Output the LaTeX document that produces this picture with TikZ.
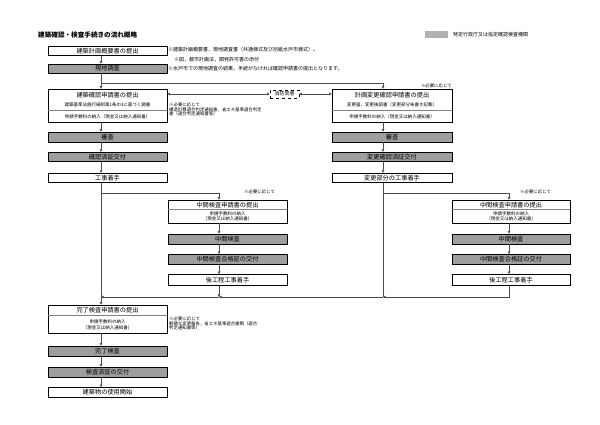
\documentclass[tikz,border=0pt]{standalone}
\usepackage{fontspec}
\setmainfont{Noto Sans CJK JP}
\usetikzlibrary{arrows.meta}
\definecolor{boxgray}{gray}{0.62}
\definecolor{leggray}{gray}{0.70}
\definecolor{linegray}{gray}{0.30}
\begin{document}
\begin{tikzpicture}[x=1pt,y=-1pt,
  box/.style={draw=black,line width=0.7pt,inner sep=0pt,font=\fontsize{6.2}{6.2}\selectfont},
  wbox/.style={box,fill=white},
  gbox/.style={box,fill=boxgray},
  ttl/.style={inner sep=0pt,font=\fontsize{6.2}{6.2}\selectfont},
  sub/.style={inner sep=0pt,font=\fontsize{4.5}{4.5}\selectfont},
  note/.style={inner sep=0pt,anchor=west,font=\fontsize{5}{5}\selectfont},
  snote/.style={inner sep=0pt,anchor=west,font=\fontsize{4.4}{4.4}\selectfont},
  sep/.style={draw=gray,line width=0.4pt},
  conn/.style={draw=linegray,line width=0.5pt},
  arr/.style={conn,-{Triangle[length=2.6pt,width=2.6pt]}},
  darr/.style={conn,{Triangle[length=2.6pt,width=2.6pt]}-{Triangle[length=2.6pt,width=2.6pt]}},
]
\useasboundingbox[fill=white] (0,0) rectangle (600,424);

% title and legend
\node[anchor=west,inner sep=0pt,font=\fontsize{6.6}{6.6}\selectfont\bfseries] (title) at (38,35) {建築確認・検査手続きの流れ概略};
\node[draw=leggray,fill=leggray,minimum width=22pt,minimum height=6pt,inner sep=0pt] (leg) at (436,34.5) {};
\node[note] (legt) at (453,34.5) {特定行政庁又は指定確認検査機関};

% guide coordinates
\coordinate (xl) at (101,0);
\coordinate (xm) at (219,0);
\coordinate (xr) at (383,0);
\coordinate (xrr) at (509,0);

% left column
\node[wbox,minimum width=119pt,minimum height=9pt] (n1) at (107.5,51) {建築計画概要書の提出};
\node[gbox,minimum width=119pt,minimum height=9pt] (n2) at (107.5,68.5) {現地調査};
\node[wbox,minimum width=119pt,minimum height=33pt] (n3) at (107.5,105.5) {};
\node[ttl] (n3t) at (107.5,95) {建築確認申請書の提出};
\node[sub] (n3a) at (107.5,104.5) {建築基準法施行細則第1条の3に基づく調書};
\draw[sep] (n3.west |- 0,110.5) -- (n3.east |- 0,110.5);
\node[sub] (n3b) at (107.5,116.5) {申請手数料の納入（現金又は納入通知書）};
\node[gbox,minimum width=119pt,minimum height=10pt] (n4) at (107.5,137) {審査};
\node[gbox,minimum width=119pt,minimum height=9.5pt] (n5) at (107.5,157) {確認済証交付};
\node[wbox,minimum width=119pt,minimum height=9.5pt] (n6) at (107.5,178) {工事着手};
\node[wbox,minimum width=119pt,minimum height=28pt] (n7) at (107.5,319) {};
\node[ttl] (n7t) at (107.5,310.5) {完了検査申請書の提出};
\draw[sep] (n7.west |- 0,315.5) -- (n7.east |- 0,315.5);
\node[sub] (n7a) at (107.5,322) {申請手数料の納入};
\node[sub] (n7b) at (107.5,328) {（現金又は納入通知書）};
\node[gbox,minimum width=119pt,minimum height=10pt] (n8) at (107.5,351) {完了検査};
\node[gbox,minimum width=119pt,minimum height=10pt] (n9) at (107.5,372) {検査済証の交付};
\node[wbox,minimum width=119pt,minimum height=10pt] (n10) at (107.5,392.5) {建築物の使用開始};

% notes, left
\node[note] (c1) at (168,50) {※建築計画概要書，現地調査書（共通様式及び別紙水戸市様式）。};
\node[note] (c2) at (174,60) {※図，都市計画法，開発許可書の添付};
\node[note] (c3) at (168,68.5) {※水戸市での現地調査の結果，手続がなければ確認申請書の提出となります。};
\node[snote] (c4) at (169,105) {※必要に応じて};
\node[snote] (c5) at (169,109.5) {構造計算適合判定通知書，省エネ基準適合判定};
\node[snote] (c6) at (169,114) {書（適合判定通知書等）};
\node[snote] (c7) at (169,319) {※必要に応じて};
\node[snote] (c8) at (169,323.5) {軽微な変更報告，省エネ基準適合書類（適合};
\node[snote] (c9) at (169,328) {判定通知書等）};

% fire consent
\node[draw=black,dashed,line width=0.6pt,minimum width=29pt,minimum height=8pt,inner sep=0pt,font=\fontsize{5}{5}\selectfont] (fire) at (284.5,94) {消防同意};

% right column
\node[wbox,minimum width=120pt,minimum height=33pt] (r1) at (392,105.5) {};
\node[ttl] (r1t) at (392,95) {計画変更確認申請書の提出};
\node[sub] (r1a) at (392,104.5) {変更届，変更後図書（変更部分朱書き記載）};
\draw[sep] (r1.west |- 0,110.5) -- (r1.east |- 0,110.5);
\node[sub] (r1b) at (392,116.5) {申請手数料の納入（現金又は納入通知書）};
\node[snote,anchor=east] (c10) at (452,86) {※必要に応じて};
\node[gbox,minimum width=120pt,minimum height=10pt] (r2) at (392,137) {審査};
\node[gbox,minimum width=120pt,minimum height=9.5pt] (r3) at (392,157) {変更確認済証交付};
\node[wbox,minimum width=120pt,minimum height=9.5pt] (r4) at (392,178) {変更部分の工事着手};

% middle column
\node[snote] (c11) at (244,191.5) {※必要に応じて};
\node[wbox,minimum width=119pt,minimum height=23pt] (m1) at (227.5,211.5) {};
\node[ttl] (m1t) at (227.5,205) {中間検査申請書の提出};
\draw[sep] (m1.west |- 0,209.5) -- (m1.east |- 0,209.5);
\node[sub] (m1a) at (227.5,213.8) {申請手数料の納入};
\node[sub] (m1b) at (227.5,219) {（現金又は納入通知書）};
\node[gbox,minimum width=119pt,minimum height=10pt] (m2) at (227.5,239) {中間検査};
\node[gbox,minimum width=119pt,minimum height=10pt] (m3) at (227.5,259.5) {中間検査合格証の交付};
\node[wbox,minimum width=119pt,minimum height=11pt] (m4) at (227.5,280) {後工程工事着手};

% far right column
\node[snote] (c12) at (520,191.5) {※必要に応じて};
\node[wbox,minimum width=118pt,minimum height=23pt] (q1) at (511,211.5) {};
\node[ttl] (q1t) at (511,205) {中間検査申請書の提出};
\draw[sep] (q1.west |- 0,209.5) -- (q1.east |- 0,209.5);
\node[sub] (q1a) at (511,213.8) {申請手数料の納入};
\node[sub] (q1b) at (511,219) {（現金又は納入通知書）};
\node[gbox,minimum width=118pt,minimum height=10pt] (q2) at (511,239) {中間検査};
\node[gbox,minimum width=118pt,minimum height=10pt] (q3) at (511,259.5) {中間検査合格証の交付};
\node[wbox,minimum width=118pt,minimum height=11pt] (q4) at (511,280) {後工程工事着手};

% junctions
\coordinate (ja) at (101,83);
\coordinate (jb) at (101,193);
\coordinate (jc) at (383,193);
\coordinate (jd) at (383,297);
\coordinate (je) at (219,297);
\coordinate (jf) at (101,297);

% connectors left
\draw[arr] (n1.south -| xl) -- (n2.north -| xl);
\draw[arr] (n2.south -| xl) -- (n3.north -| xl);
\draw[arr] (ja) -| (r1.north -| xr);
\draw[darr] (fire.west -| n3.east) -- (fire.west);
\draw[darr] (fire.east) -- (fire.east -| r1.west);
\draw[arr] (n3.south -| xl) -- (n4.north -| xl);
\draw[arr] (n4.south -| xl) -- (n5.north -| xl);
\draw[arr] (n5.south -| xl) -- (n6.north -| xl);
\draw[arr] (n6.south -| xl) -- (n7.north -| xl);
\draw[arr] (jb) -| (m1.north -| xm);
\draw[arr] (n7.south -| xl) -- (n8.north -| xl);
\draw[arr] (n8.south -| xl) -- (n9.north -| xl);
\draw[arr] (n9.south -| xl) -- (n10.north -| xl);
% connectors right
\draw[arr] (r1.south -| xr) -- (r2.north -| xr);
\draw[arr] (r2.south -| xr) -- (r3.north -| xr);
\draw[arr] (r3.south -| xr) -- (r4.north -| xr);
\draw[conn] (r4.south -| xr) -- (jd);
\draw[arr] (jc) -| (q1.north -| xrr);
% middle and far right
\draw[arr] (m1.south -| xm) -- (m2.north -| xm);
\draw[arr] (m2.south -| xm) -- (m3.north -| xm);
\draw[arr] (m3.south -| xm) -- (m4.north -| xm);
\draw[arr] (q1.south -| xrr) -- (q2.north -| xrr);
\draw[arr] (q2.south -| xrr) -- (q3.north -| xrr);
\draw[arr] (q3.south -| xrr) -- (q4.north -| xrr);
% bottom merge
\draw[arr] (q4.south -| xrr) |- (jd);
\draw[arr] (jd) -- (je);
\draw[arr] (m4.south -| xm) -- (je);
\draw[arr] (je) -- (jf);
\end{tikzpicture}
\end{document}
